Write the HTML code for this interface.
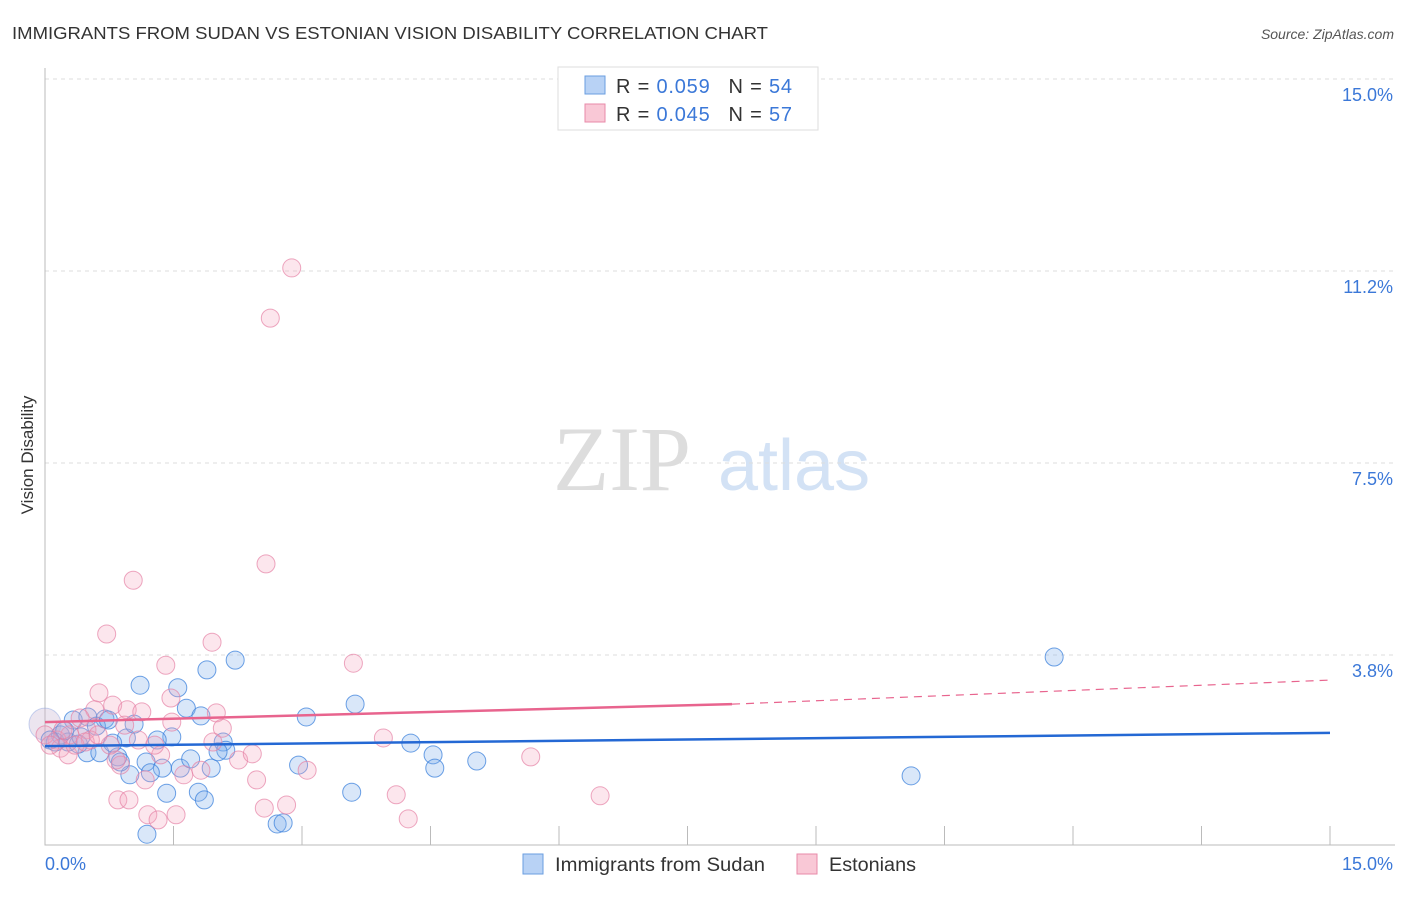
<!DOCTYPE html>
<html><head><meta charset="utf-8"><style>
body{margin:0;background:#fff;font-family:"Liberation Sans",sans-serif;}
</style></head><body>
<svg width="1406" height="892" viewBox="0 0 1406 892" id="svg" style="font-family:'Liberation Sans',sans-serif">
<text x="12" y="39" font-size="17.5" fill="#333" textLength="756" lengthAdjust="spacingAndGlyphs">IMMIGRANTS FROM SUDAN VS ESTONIAN VISION DISABILITY CORRELATION CHART</text>
<text x="1394" y="39" font-size="14" fill="#555" font-style="italic" text-anchor="end">Source: ZipAtlas.com</text>
<text x="33" y="455" font-size="17" fill="#333" transform="rotate(-90 33 455)" text-anchor="middle">Vision Disability</text>
<g>
<text x="553" y="490" font-size="92" fill="#ddd" font-family="Liberation Serif,serif">ZIP</text>
<text x="718" y="490" font-size="72" fill="#d3e2f5">atlas</text>
</g>
<g id="grid"></g><g id="axes"></g><g id="pts"></g><g id="trend"></g>
<g>
<rect x="558" y="67" width="260" height="63" fill="#fff" stroke="#ddd"/>
<rect x="585" y="76" width="20" height="18" fill="#b8d2f5" stroke="#6a9ee0"/>
<rect x="585" y="104" width="20" height="18" fill="#f9c8d6" stroke="#e88aa8"/>
<text x="616" y="93" font-size="20" fill="#333" textLength="176" lengthAdjust="spacing">R = <tspan fill="#3b78d8">0.059</tspan><tspan dx="18">N = </tspan><tspan fill="#3b78d8">54</tspan></text>
<text x="616" y="121" font-size="20" fill="#333" textLength="176" lengthAdjust="spacing">R = <tspan fill="#3b78d8">0.045</tspan><tspan dx="18">N = </tspan><tspan fill="#3b78d8">57</tspan></text>
</g>
<g>
<rect x="523" y="854" width="20" height="20" fill="#b8d2f5" stroke="#6a9ee0"/>
<text x="555" y="871" font-size="19" fill="#333" textLength="210" lengthAdjust="spacingAndGlyphs">Immigrants from Sudan</text>
<rect x="797" y="854" width="20" height="20" fill="#f9c8d6" stroke="#e88aa8"/>
<text x="829" y="871" font-size="19" fill="#333" textLength="87" lengthAdjust="spacingAndGlyphs">Estonians</text>
</g>
</svg>
<script>
const yTicks=[3.8,7.5,11.2,15.0];
const yTickLabels=["3.8%","7.5%","11.2%","15.0%"];
const xTickLabels=["0.0%","15.0%"];
const sudanX=[0,.18,.33,.5,.7,.49,.64,.85,.95,1.04,1.11,1.55,1.89,2.22,1.65,1.82,1.48,1.31,1.18,1.37,1.58,1.94,2.08,2.11,2.02,1.7,.99,1.23,1.42,1.79,1.86,1.19,2.71,2.78,2.96,3.05,3.62,3.58,4.27,4.53,4.55,5.04,10.11,11.78,.27,.39,.12,.79,.6,.23,.74,.88,.42,.06];
const sudanY=[2.4,2.19,2.48,2.54,2.5,1.84,1.84,1.76,2.13,2.4,3.16,3.11,3.46,3.65,2.71,2.56,2.15,2.09,1.66,1.54,1.54,1.54,2.05,1.89,1.86,1.72,1.41,1.45,1.05,1.07,.92,.25,.45,.47,1.6,2.54,2.79,1.07,2.03,1.8,1.54,1.68,1.39,3.71,2.05,2.01,2.05,2.03,2.36,2.27,2.48,1.66,2.15,2.09];
const estX=[2.88,2.63,2.58,1.03,.72,1.95,3.6,1.41,.63,1.47,.79,.58,2.0,.96,1.13,1.48,2.07,.41,.49,1.09,.14,.29,0,.18,.27,1.96,1.35,.88,.83,2.26,2.42,1.82,1.62,3.06,3.95,5.67,1.17,2.47,.85,.98,1.2,1.53,1.32,2.56,2.82,4.1,4.24,6.48,.53,.76,.35,.06,.21,.47,.62,.93,1.28];
const estY=[11.31,10.33,5.53,5.21,4.16,4.0,3.59,3.55,3.01,2.91,2.77,2.68,2.62,2.68,2.64,2.44,2.32,2.52,2.29,2.09,2.09,2.19,2.19,1.93,1.8,2.05,1.8,1.6,1.7,1.7,1.82,1.5,1.41,1.5,2.13,1.76,1.31,1.31,.92,.92,.63,.63,.53,.76,.82,1.02,.55,1.0,2.09,1.99,1.99,1.99,2.29,2.05,2.19,2.38,1.99];
const trendSudan=[1.97,2.23];
const trendEst=[2.44,2.79,3.26];
const trendEstSolidEnd=8.02;
const X0=45,X1=1330,Y0=847,YSCALE=51.2;
const sx=v=>X0+(X1-X0)*v/15;
const sy=v=>Y0-v*YSCALE;
const NS="http://www.w3.org/2000/svg";
function mk(t,a,p){const e=document.createElementNS(NS,t);for(const k in a)e.setAttribute(k,a[k]);p.appendChild(e);return e;}
const grid=document.getElementById('grid'),axes=document.getElementById('axes'),pts=document.getElementById('pts'),trend=document.getElementById('trend');
yTicks.forEach((v,i)=>{const yy=[655,463,271,79][i];
const l=mk('line',{x1:45,x2:1395,y1:yy,y2:yy,stroke:'#ddd','stroke-dasharray':'4,4'},grid);

const t=mk('text',{x:1393,y:yy+22,'font-size':18,fill:'#3b78d8','text-anchor':'end'},axes);t.textContent=yTickLabels[i];
});
const ax=mk('path',{d:'M45,68V845H1395',stroke:'#bbb',fill:'none'},axes);

for(let i=0;i<=10;i++){const x=sx(i*1.5);const tk=mk('line',{x1:x,x2:x,y1:826,y2:845,stroke:'#bbb'},axes);
}
[[45,'start'],[1393,'end']].forEach((p,i)=>{const t=mk('text',{x:p[0],y:870,'font-size':18,fill:'#3b78d8','text-anchor':p[1]},axes);t.textContent=xTickLabels[i];
});
sudanX.forEach((v,i)=>{const c=mk('circle',{cx:sx(v),cy:sy(sudanY[i]),r:i===0?16:9,fill:i===0?'rgba(200,180,210,0.35)':'rgba(130,175,235,0.3)',stroke:i===0?'rgba(120,150,220,0.4)':'rgba(60,130,220,0.75)','stroke-width':1},pts);
});
estX.forEach((v,i)=>{const c=mk('circle',{cx:sx(v),cy:sy(estY[i]),r:9,fill:'rgba(245,165,190,0.28)',stroke:'rgba(230,130,165,0.7)','stroke-width':1},pts);
});
let l=mk('line',{x1:sx(0),y1:sy(trendSudan[0]),x2:sx(15),y2:sy(trendSudan[1]),stroke:'#2468d4','stroke-width':2.5},trend);

l=mk('line',{x1:sx(0),y1:sy(trendEst[0]),x2:sx(trendEstSolidEnd),y2:sy(trendEst[1]),stroke:'#e8648e','stroke-width':2.5},trend);

l=mk('line',{x1:sx(trendEstSolidEnd),y1:sy(trendEst[1]),x2:sx(15),y2:sy(trendEst[2]),stroke:'#e8648e','stroke-width':1.2,'stroke-dasharray':'8,6'},trend);

</script>
</body></html>
